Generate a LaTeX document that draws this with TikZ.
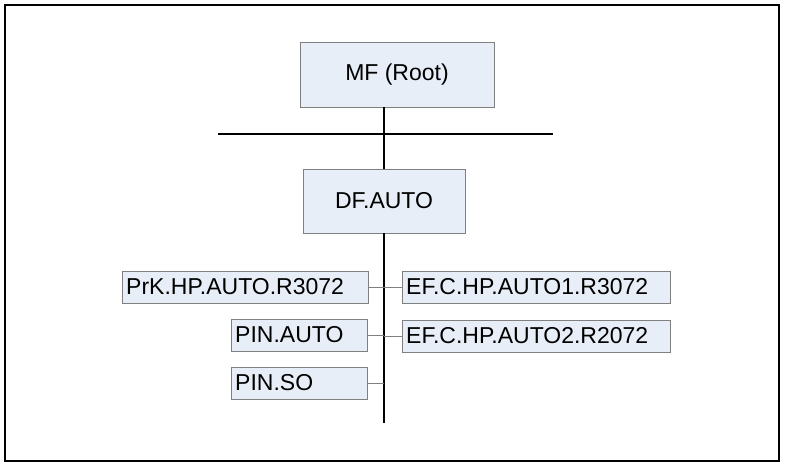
\documentclass[tikz,border=0pt]{standalone}
\usepackage{fontspec}
\setmainfont{Liberation Sans}
\usetikzlibrary{positioning}

\definecolor{boxfill}{RGB}{232,238,247}
\definecolor{boxline}{RGB}{128,128,128}

\tikzset{
  rootbox/.style={draw=boxline, fill=boxfill, font=\fontsize{23}{25}\selectfont,
    minimum height=65pt, inner sep=0pt},
  leafbox/.style={draw=boxline, fill=boxfill, font=\fontsize{23}{25}\selectfont,
    minimum height=32pt, inner xsep=4pt, inner ysep=0pt, align=left, anchor=west},
  spine/.style={black, line width=1.4pt},
  twig/.style={boxline, line width=0.9pt}
}

\begin{document}
\begin{tikzpicture}[x=1pt, y=-1pt]

\useasboundingbox (0,0) rectangle (785,467);
\draw[line width=2.8pt] (5,5) rectangle (779,461); %% frame

%% upper part
\node[rootbox, minimum width=194pt] (mf) at (397,74.5) {MF (Root)};
\node[rootbox, minimum width=162pt, minimum height=64pt] (df) at (384,201) {DF.AUTO};

\coordinate (busL) at (218,134);
\coordinate (busR) at (553,134);
\draw[spine] (busL) -- (busR);
\draw[spine] (df.north) -- (df.north |- mf.south);

%% spine
\coordinate (foot) at (384,423);
\draw[spine] (df.south) -- (foot);

%% left side
\node[leafbox, text width=238pt] (prk) at (122,287) {PrK.HP.AUTO.R3072};
\node[leafbox, text width=128pt] (pinauto) at (231,335) {PIN.AUTO};
\node[leafbox, text width=128pt] (pinso) at (231,383) {PIN.SO};

%% right side
\node[leafbox, text width=260pt] (ef1) at (402,287) {EF.C.HP.AUTO1.R3072};
\node[leafbox, text width=260pt] (ef2) at (402,336) {EF.C.HP.AUTO2.R2072};

\draw[twig] (prk.east) -- (prk.east -| foot);
\draw[twig] (pinauto.east) -- (pinauto.east -| foot);
\draw[twig] (pinso.east) -- (pinso.east -| foot);
\draw[twig] (ef1.west) -- (ef1.west -| foot);
\draw[twig] (ef2.west) -- (ef2.west -| foot);

\end{tikzpicture}
\end{document}
